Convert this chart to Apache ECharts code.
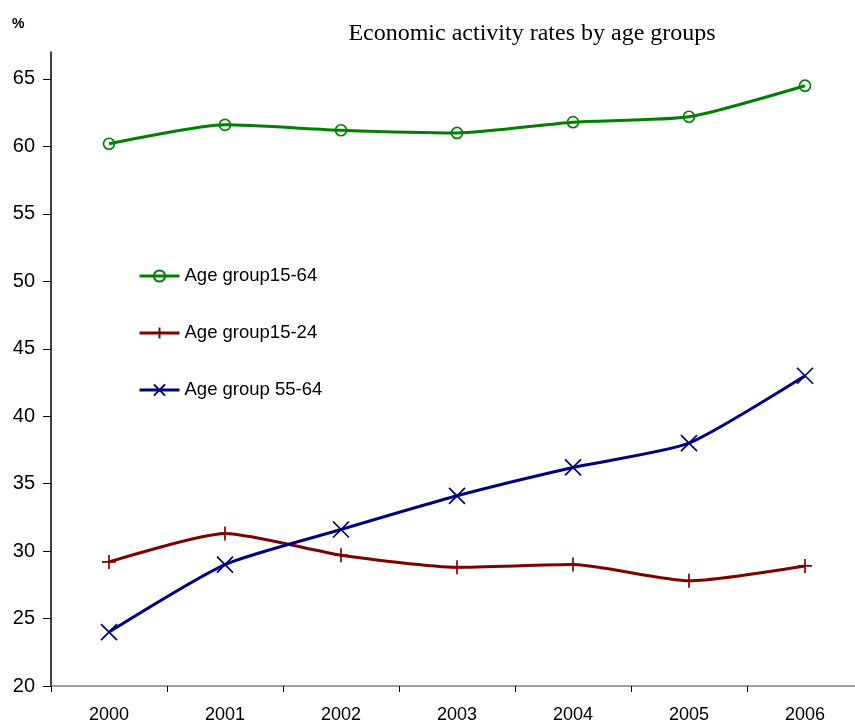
<!DOCTYPE html>
<html><head><meta charset="utf-8">
<script src="https://cdn.jsdelivr.net/npm/echarts@6/dist/echarts.min.js"></script>
<style>html,body{margin:0;padding:0;background:#fff}#c{width:855px;height:720px}</style>
</head><body><div id="c"></div>
<script>
const years = ['2000','2001','2002','2003','2004','2005','2006'];
const yTicks = [20,25,30,35,40,45,50,55,60,65];
const age1564 = [60.2, 61.6, 61.2, 61.0, 61.8, 62.2, 64.5];
const age1524 = [29.2, 31.3, 29.7, 28.8, 29.0, 27.8, 28.9];
const age5564 = [24.0, 29.0, 31.6, 34.1, 36.2, 38.0, 43.0];
const names = ['Age group15-64','Age group15-24','Age group 55-64'];

const chart = echarts.init(document.getElementById('c'));
const plus = 'path://M0,-10L0,10M-10,0L10,0';
const cross = 'path://M-10,-10L10,10M-10,10L10,-10';
function mk(name, data, color, symbol, size){
  return {
    name, type:'line', data, smooth:0.2, symbol, symbolSize:size, showSymbol:true,
    lineStyle:{color, width:3},
    itemStyle:{color:'none', borderColor:color, borderWidth:1.7},
    emphasis:{disabled:true}, z: 2
  };
}
chart.setOption({
  animation:false,
  title:{text:'Economic activity rates by age groups', left:527, textAlign:'center', top:17,
    textStyle:{fontFamily:'Liberation Serif', fontSize:24, fontWeight:'normal', color:'#000'}},
  graphic:[{type:'text', left:12, top:17, style:{text:'%', font:'bold 14px Liberation Sans', fill:'#000'}}],
  legend:{orient:'vertical', left:138, top:266, padding:0, itemGap:37, itemWidth:40, itemHeight:14,
    lineStyle:{width:3},
    textStyle:{fontFamily:'Liberation Sans', fontSize:18.5, lineHeight:20, color:'#000'}, data:names},
  grid:{left:51, top:52, right:-8, bottom:34, containLabel:false, outerBoundsMode:'none'},
  xAxis:{type:'category', data:years, boundaryGap:true,
    axisLine:{lineStyle:{color:'#808080', width:1.5}},
    axisTick:{show:true, length:6, lineStyle:{color:'#000'}},
    axisLabel:{fontFamily:'Liberation Sans', fontSize:18, color:'#000', margin:20}},
  yAxis:{type:'value', min:20, max:67, interval:5, splitLine:{show:false},
    axisLine:{show:true, lineStyle:{color:'#000', width:1.5}},
    axisTick:{show:true, length:8, customValues:yTicks, lineStyle:{color:'#000'}},
    axisLabel:{fontFamily:'Liberation Sans', fontSize:20, color:'#000', margin:16, customValues:yTicks}},
  series:[
    mk(names[0], age1564, '#008000', 'circle', 11),
    mk(names[1], age1524, '#800000', plus, 14),
    mk(names[2], age5564, '#000080', cross, 16)
  ]
});
</script></body></html>
